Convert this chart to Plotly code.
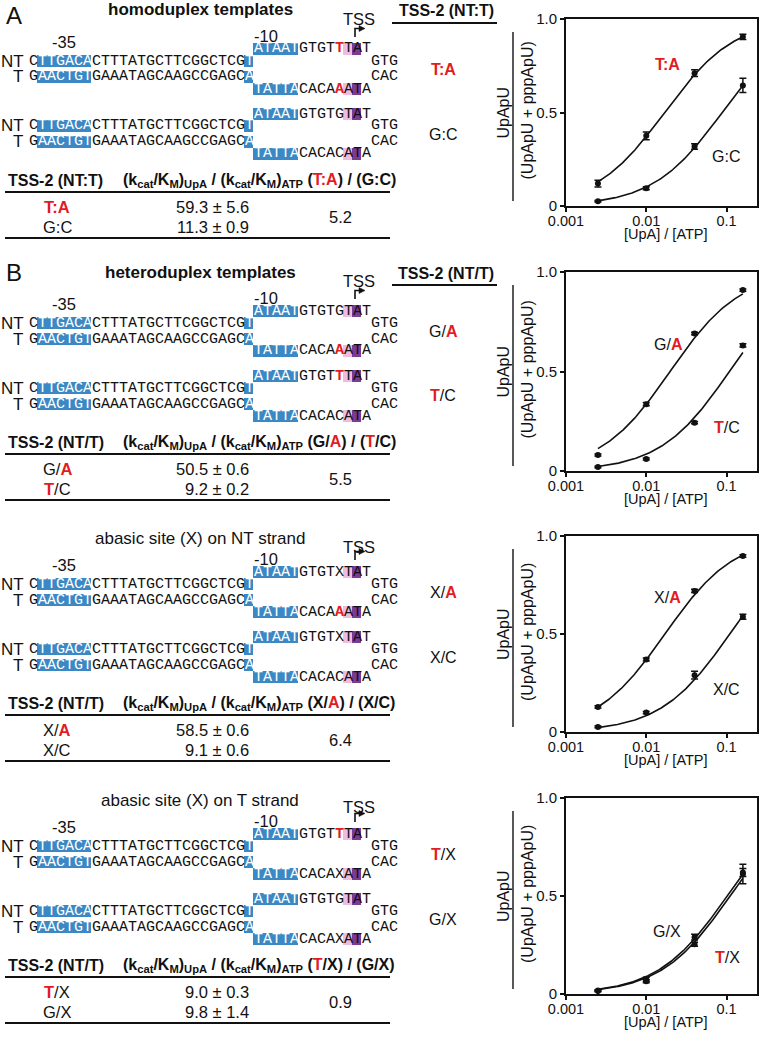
import numpy as np
import plotly.graph_objects as go

# ----------------------------- data -----------------------------
ratio_x = [0.0025, 0.01, 0.04, 0.16]          # [UpA] / [ATP]

# panel A : homoduplex
A_TA_y = [0.120, 0.375, 0.710, 0.905]
A_TA_err = [0.018, 0.021, 0.018, 0.014]
A_GC_y = [0.025, 0.095, 0.318, 0.645]
A_GC_err = [0.004, 0.008, 0.015, 0.038]
# panel B : heteroduplex
B_GA_y = [0.081, 0.336, 0.691, 0.909]
B_GA_err = [0.005, 0.008, 0.006, 0.006]
B_TC_y = [0.020, 0.060, 0.243, 0.631]
B_TC_err = [0.004, 0.005, 0.006, 0.008]
# abasic site on NT strand
C_XA_y = [0.128, 0.370, 0.720, 0.898]
C_XA_err = [0.006, 0.008, 0.008, 0.006]
C_XC_y = [0.026, 0.099, 0.290, 0.588]
C_XC_err = [0.004, 0.006, 0.020, 0.013]
# abasic site on T strand
D_TX_y = [0.015, 0.065, 0.254, 0.612]
D_TX_err = [0.004, 0.008, 0.010, 0.050]
D_GX_y = [0.018, 0.075, 0.290, 0.620]
D_GX_err = [0.004, 0.010, 0.015, 0.020]

# table values: (kcat/KM)UpA / (kcat/KM)ATP  and fold ratio
A_kratio = [59.3, 11.3]; A_kratio_sd = [5.6, 0.9]; A_fold = 5.2
B_kratio = [50.5, 9.2];  B_kratio_sd = [0.6, 0.2]; B_fold = 5.5
C_kratio = [58.5, 9.1];  C_kratio_sd = [0.6, 0.6]; C_fold = 6.4
D_kratio = [9.0, 9.8];   D_kratio_sd = [0.3, 1.4]; D_fold = 0.9

x_tickvals = [0.001, 0.01, 0.1]
x_ticktext = ["0.001", "0.01", "0.1"]
y_tickvals = [0, 0.5, 1.0]
y_ticktext = ["0", "0.5", "1.0"]

# template sequences
NT_MAIN = "CTTGACACTTTATGCTTCGGCTCGT"
T_MAIN = "GAACTGTGAAATAGCAAGCCGAGCA"
NT_BUB_L, NT_BUB_R = "ATAATGTGT", "TAT"
T_BUB_L, T_BUB_R = "TATTACACA", "ATA"
NT_END, T_END = "GTG", "CAC"

# ----------------------------- style -----------------------------
W, H = 762, 1037
SANS = "Liberation Sans, Arial, sans-serif"
MONO = "Liberation Mono, Courier New, monospace"
BLUE = "#3b88c4"
PINK = "#eebcdf"
PURPLE = "#7b3a95"
RED = "#e31b23"
INK = "#111111"
WHITE_TXT = "#ffffff"


def px(x):
    return x / W


def py(y):
    return 1 - y / H


def red(s):
    return f"<span style='color:{RED}'><b>{s}</b></span>"


ann, shp = [], []


def txt(x, y, s, size=16.5, color=INK, xa="center", ya="middle", family=SANS, angle=0):
    ann.append(dict(x=px(x), y=py(y), xref="paper", yref="paper", text=s, showarrow=False,
                    font=dict(family=family, size=size, color=color), xanchor=xa, yanchor=ya,
                    textangle=angle, borderpad=0))


def box(x0, y0, x1, y1, color):
    shp.append(dict(type="rect", xref="paper", yref="paper", x0=px(x0), x1=px(x1),
                    y0=py(y1), y1=py(y0), fillcolor=color, line=dict(width=0), layer="below"))


def hline(x0, x1, y, w=2.2):
    shp.append(dict(type="line", xref="paper", yref="paper", x0=px(x0), x1=px(x1),
                    y0=py(y), y1=py(y), line=dict(color=INK, width=w)))


def vline(x, y0, y1, w=1.4):
    shp.append(dict(type="line", xref="paper", yref="paper", x0=px(x), x1=px(x),
                    y0=py(y0), y1=py(y1), line=dict(color=INK, width=w)))


def path(pts, close=False, fill=None, w=1.6):
    d = "M " + " L ".join(f"{px(a):.5f},{py(b):.5f}" for a, b in pts) + (" Z" if close else "")
    shp.append(dict(type="path", xref="paper", yref="paper", path=d,
                    line=dict(color=INK, width=w if not fill else 0.5),
                    fillcolor=fill if fill else "rgba(0,0,0,0)"))


X0, CW = 28, 9


def seq(col0, y, chars, styles):
    i = 0
    while i < len(chars):
        j = i
        while j < len(chars) and styles[j] == styles[i]:
            j += 1
        seg = chars[i:j]
        st = styles[i]
        color = {"k": INK, "w": WHITE_TXT, "r": RED}[st]
        t = f"<b>{seg}</b>" if st == "r" else seg
        txt(X0 + (col0 + i) * CW, y, t, size=15, color=color, xa="left", family=MONO)
        i = j


def block(yb, nt_var, t_var):
    y_ntb, y_nt, y_t, y_tb = yb, yb + 12, yb + 28, yb + 40
    for y in (y_nt, y_t):
        box(X0 + 1 * CW, y - 6, X0 + 7 * CW, y + 6, BLUE)
        box(X0 + 24 * CW, y - 6, X0 + 25 * CW, y + 6, BLUE)
    for y in (y_ntb, y_tb):
        box(X0 + 25 * CW, y - 6, X0 + 30 * CW, y + 6, BLUE)
        box(X0 + 35 * CW, y - 6, X0 + 36 * CW, y + 6, PINK)
        box(X0 + 36 * CW, y - 6, X0 + 37 * CW, y + 6, PURPLE)
    main_st = "k" + "w" * 6 + "k" * 17 + "w"
    seq(0, y_nt, NT_MAIN, main_st)
    seq(0, y_t, T_MAIN, main_st)
    seq(38, y_nt, NT_END, "kkk")
    seq(38, y_t, T_END, "kkk")

    def bst(r):
        return "w" * 5 + "k" * 4 + ("r" if r else "k") + "kkk"
    seq(25, y_ntb, NT_BUB_L + nt_var[0] + NT_BUB_R, bst(nt_var[1]))
    seq(25, y_tb, T_BUB_L + t_var[0] + T_BUB_R, bst(t_var[1]))
    txt(25, y_nt, "NT", size=17, xa="right")
    txt(24, y_t, "T", size=17, xa="right")


sections = [
    dict(base=0, title="<b>homoduplex templates</b>", title_dy=10, tss_dy=19,
         vars=[(("T", True), ("A", True)), (("G", False), ("C", False))],
         labels=[red("T:A"), "G:C"], head="TSS-2 (NT:T)",
         kr=A_kratio, sd=A_kratio_sd, fold=A_fold, colhead="TSS-2 (NT:T)"),
    dict(base=262, title="<b>heteroduplex templates</b>", title_dy=10, tss_dy=19,
         vars=[(("G", False), ("A", True)), (("T", True), ("C", False))],
         labels=["G/" + red("A"), red("T") + "/C"], head="TSS-2 (NT/T)",
         kr=B_kratio, sd=B_kratio_sd, fold=B_fold, colhead="TSS-2 (NT/T)"),
    dict(base=523, title="abasic site (X) on NT strand", title_dy=15, tss_dy=24,
         vars=[(("X", False), ("A", True)), (("X", False), ("C", False))],
         labels=["X/" + red("A"), "X/C"], head="TSS-2 (NT/T)",
         kr=C_kratio, sd=C_kratio_sd, fold=C_fold, colhead=None),
    dict(base=785, title="abasic site (X) on T strand", title_dy=15, tss_dy=22,
         vars=[(("T", True), ("X", False)), (("G", False), ("X", False))],
         labels=[red("T") + "/X", "G/X"], head="TSS-2 (NT/T)",
         kr=D_kratio, sd=D_kratio_sd, fold=D_fold, colhead=None),
]

txt(13.5, 15, "A", size=24)
txt(13.5, 272, "B", size=24)

for s in sections:
    b = s["base"]
    txt(200, b + s["title_dy"], s["title"], size=17)
    txt(359, b + s["tss_dy"], "TSS", size=16.5)
    path([(355, b + 37), (355, b + 28.5), (360, b + 28.5)])
    path([(359, b + 25.5), (365, b + 28.5), (359, b + 31.5)], close=True, fill=INK)
    txt(253, b + 36, "-10", size=16.5, xa="left")
    txt(64, b + 41.5, "-35", size=16.5)
    for k, (nv, tv) in enumerate(s["vars"]):
        yb = b + 49 + 65 * k
        block(yb, nv, tv)
        txt(443, yb + 20, s["labels"][k], size=16)
    if s["colhead"]:
        txt(446, b + 11, "<b>" + s["colhead"] + "</b>", size=16)
        hline(392, 497, b + 23)
    # table
    hdr = ("<b>(k<sub>cat</sub>/K<sub>M</sub>)<sub>UpA</sub> / (k<sub>cat</sub>/K<sub>M</sub>)"
           "<sub>ATP</sub> (" + s["labels"][0] + ") / (" + s["labels"][1] + ")</b>")
    txt(7, b + 180, "<b>" + s["head"] + "</b>", size=16, xa="left")
    txt(122, b + 180, hdr, size=16, xa="left")
    hline(5, 390, b + 192)
    for k in range(2):
        yy = b + 207 + 20 * k
        txt(57, yy, s["labels"][k], size=16.5)
        txt(250, yy, f"{s['kr'][k]:.1f} ± {s['sd'][k]:.1f}", size=16.5, xa="right")
    txt(340, b + 217, f"{s['fold']:.1f}", size=16.5)
    hline(5, 390, b + 238)

# ----------------------------- plots -----------------------------
panels = [
    dict(top=19, bot=206, series=[(A_TA_y, A_TA_err, A_kratio[0]), (A_GC_y, A_GC_err, A_kratio[1])],
         lab=[(667, 65, red("T:A")), (726, 156, "G:C")]),
    dict(top=272, bot=471, series=[(B_GA_y, B_GA_err, B_kratio[0]), (B_TC_y, B_TC_err, B_kratio[1])],
         lab=[(668, 344, "G/" + red("A")), (727, 427, red("T") + "/C")]),
    dict(top=536, bot=732, series=[(C_XA_y, C_XA_err, C_kratio[0]), (C_XC_y, C_XC_err, C_kratio[1])],
         lab=[(667, 597, "X/" + red("A")), (726, 689, "X/C")]),
    dict(top=798, bot=994, series=[(D_TX_y, D_TX_err, D_kratio[0]), (D_GX_y, D_GX_err, D_kratio[1])],
         lab=[(667, 931, "G/X"), (727, 957, red("T") + "/X")]),
]

fig = go.Figure()
layout = {}
PL, PR = 566, 757
xfit = np.logspace(np.log10(ratio_x[0]), np.log10(ratio_x[-1]), 150)
for i, p in enumerate(panels):
    idx = "" if i == 0 else str(i + 1)
    xa, ya = "x" + idx, "y" + idx
    for yv, ev, r in p["series"]:
        fig.add_trace(go.Scatter(x=xfit, y=r * xfit / (1 + r * xfit), mode="lines",
                                 line=dict(color=INK, width=1.6), xaxis=xa, yaxis=ya,
                                 showlegend=False, hoverinfo="skip"))
        fig.add_trace(go.Scatter(x=ratio_x, y=yv, mode="markers",
                                 marker=dict(color=INK, size=6),
                                 error_y=dict(type="data", array=ev, color=INK, thickness=1.5, width=3.5),
                                 xaxis=xa, yaxis=ya, showlegend=False))
    layout["xaxis" + idx] = dict(domain=[px(PL), px(PR)], anchor=ya, type="log", range=[-3, -0.62],
                                 tickvals=x_tickvals, ticktext=x_ticktext, ticks="outside",
                                 ticklen=4, tickwidth=2, tickcolor=INK, linecolor=INK, linewidth=2,
                                 mirror=True, showgrid=False, zeroline=False, ticklabelstandoff=-3,
                                 tickfont=dict(family=SANS, size=14.5, color=INK))
    layout["yaxis" + idx] = dict(domain=[py(p["bot"]), py(p["top"])], anchor=xa, range=[0, 1],
                                 tickvals=y_tickvals, ticktext=y_ticktext, ticks="outside",
                                 ticklen=4, tickwidth=2, tickcolor=INK, linecolor=INK, linewidth=2,
                                 mirror=True, showgrid=False, zeroline=False,
                                 tickfont=dict(family=SANS, size=15, color=INK))
    mid = (p["top"] + p["bot"]) / 2
    txt(503, mid, "UpApU", size=16, angle=-90)
    txt(527, mid - 2, "(UpApU + pppApU)", size=16, angle=-90)
    vline(513, p["top"] + 13, p["bot"] - 5)
    txt(666, p["bot"] + 28, "[UpA] / [ATP]", size=14.5)
    for (lx, ly, lt) in p["lab"]:
        txt(lx, ly, lt, size=16)

fig.update_layout(width=W, height=H, autosize=False,
                  margin=dict(l=0, r=0, t=0, b=0, pad=0, autoexpand=False),
                  paper_bgcolor="white", plot_bgcolor="rgba(0,0,0,0)",
                  annotations=ann, shapes=shp, showlegend=False, hovermode=False,
                  font=dict(family=SANS, color=INK), **layout)
fig.write_html("out.html", config={"displayModeBar": False, "staticPlot": True},
               post_script="document.body.style.margin='0px';document.body.style.overflow='hidden';")
